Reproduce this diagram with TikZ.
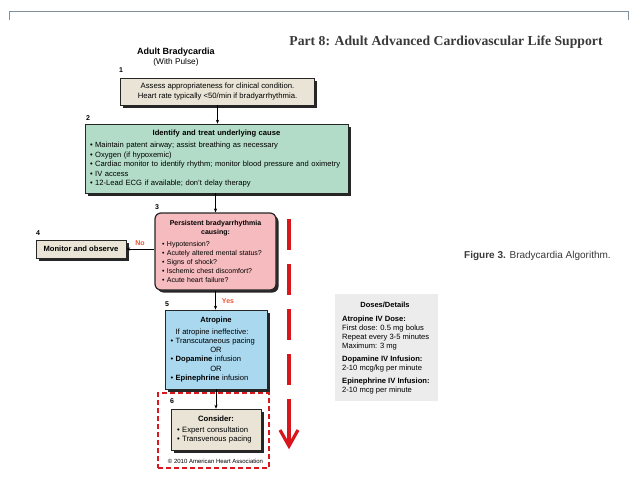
\documentclass[tikz,border=0pt]{standalone}
\usepackage{fontspec}
\setmainfont{Liberation Sans}
\newfontfamily\serifhead{Liberation Serif}
\usetikzlibrary{arrows.meta,shadows}
\definecolor{beige}{HTML}{E9E4D5}
\definecolor{mint}{HTML}{B2DCC7}
\definecolor{pinkbox}{HTML}{F5BBBE}
\definecolor{bluebox}{HTML}{A9D8EF}
\definecolor{dosegray}{HTML}{ECECEC}
\definecolor{alarmred}{HTML}{D8161C}
\definecolor{yesno}{HTML}{E8542F}
\definecolor{rulegray}{HTML}{7F909C}
\definecolor{capgray}{HTML}{3A3A3A}
\begin{document}
\begin{tikzpicture}[x=1pt,y=-1pt,
  box/.style={draw=black!85, line width=0.6pt, inner sep=0pt,
    drop shadow={shadow xshift=2.5pt, shadow yshift=-2.5pt, fill=black!85, opacity=1}},
  num/.style={font=\bfseries\fontsize{7}{8}\selectfont, inner sep=0pt},
  arr/.style={line width=0.6pt, -{Stealth[length=4pt,width=3.2pt]}},
  lbl/.style={font=\bfseries\fontsize{7}{8}\selectfont, text=yesno, inner sep=0pt},
  reddash/.style={draw=alarmred, line width=3.6pt}
]
\useasboundingbox (0,0) rectangle (638,479);
\fill[white] (0,0) rectangle (638,479);

% top rule
\draw[rulegray, line width=0.8pt] (9,20) -- (9,11) -- (628,11) -- (628,20);

% headings
\node[font=\serifhead\bfseries\fontsize{13.7}{15}\selectfont, text=capgray, inner sep=0pt] (part) at (446,42) {Part 8: Adult Advanced Cardiovascular Life Support};
\node[font=\bfseries\fontsize{9}{10}\selectfont, inner sep=0pt] (ttl) at (176,52) {Adult Bradycardia};
\node[font=\fontsize{8.3}{9}\selectfont, inner sep=0pt] (sub) at (176,62.5) {(With Pulse)};

% box 1
\node[num] (n1) at (121,70) {1};
\node[box, fill=beige, minimum width=194pt, minimum height=27pt, align=center,
  font=\fontsize{7.7}{10.5}\selectfont] (b1) at (217.5,91.5)
  {Assess appropriateness for clinical condition.\\Heart rate typically <50/min if bradyarrhythmia.};

% box 2
\node[num] (n2) at (88,118) {2};
\node[box, fill=mint, minimum width=263pt, minimum height=69pt, text width=253pt, align=left,
  font=\fontsize{7.6}{9.4}\selectfont] (b2) at (216.5,158.5)
  {\makebox[\linewidth][c]{\bfseries Identify and treat underlying cause}\\[3pt]
   \textbullet\hspace{2.5pt}Maintain patent airway; assist breathing as necessary\\
   \textbullet\hspace{2.5pt}Oxygen (if hypoxemic)\\
   \textbullet\hspace{2.5pt}Cardiac monitor to identify rhythm; monitor blood pressure and oximetry\\
   \textbullet\hspace{2.5pt}IV access\\
   \textbullet\hspace{2.5pt}12-Lead ECG if available; don't delay therapy};

% box 3
\node[num] (n3) at (157,207) {3};
\node[box, fill=pinkbox, line width=1.2pt, rounded corners=6pt, minimum width=121pt, minimum height=77pt,
  text width=107pt, align=left, font=\fontsize{7}{9}\selectfont] (b3) at (215.5,251.5)
  {\makebox[\linewidth][c]{\bfseries Persistent bradyarrhythmia}\\
   \makebox[\linewidth][c]{\bfseries causing:}\\[2.5pt]
   \textbullet\hspace{2.5pt}Hypotension?\\
   \textbullet\hspace{2.5pt}Acutely altered mental status?\\
   \textbullet\hspace{2.5pt}Signs of shock?\\
   \textbullet\hspace{2.5pt}Ischemic chest discomfort?\\
   \textbullet\hspace{2.5pt}Acute heart failure?};

% box 4
\node[num] (n4) at (38,233) {4};
\node[box, fill=beige, minimum width=90pt, minimum height=18pt,
  font=\bfseries\fontsize{7.6}{8}\selectfont] (b4) at (81,249) {Monitor and observe};

% box 5
\node[num] (n5) at (167,304) {5};
\node[box, fill=bluebox, minimum width=102pt, minimum height=79pt, text width=91pt, align=left,
  font=\fontsize{7.6}{9.2}\selectfont] (b5) at (216,349.5)
  {\makebox[\linewidth][c]{\bfseries Atropine}\\[2.5pt]
   \hspace{5pt}If atropine ineffective:\\
   \textbullet\hspace{2.5pt}Transcutaneous pacing\\
   \makebox[\linewidth][c]{OR}\\
   \textbullet\hspace{2.5pt}\textbf{Dopamine} infusion\\
   \makebox[\linewidth][c]{OR}\\
   \textbullet\hspace{2.5pt}\textbf{Epinephrine} infusion};

% group 6
\node[draw=alarmred, line width=1.6pt, dash pattern=on 5pt off 3pt, minimum width=111pt, minimum height=75pt, inner sep=0pt] (g6) at (213.5,430.5) {};
\node[num] (n6) at (172,401) {6};
\node[box, fill=beige, minimum width=90pt, minimum height=41pt, text width=78pt, align=left,
  font=\fontsize{7.7}{8.5}\selectfont] (b6) at (216,429.5)
  {\makebox[\linewidth][c]{\bfseries Consider:}\\[3pt]
   \textbullet\hspace{2.5pt}Expert consultation\\
   \textbullet\hspace{2.5pt}Transvenous pacing};
\node[font=\fontsize{6}{6.5}\selectfont, inner sep=0pt] (copy) at (215.5,461) {\textcopyright\ 2010 American Heart Association};

% connectors
\draw[arr] (b1.south) -- (b1.south |- b2.north);
\draw[arr] (b2.south -| b3.north) -- (b3.north);
\draw[arr] (b4.east -| b3.west) -- (b4.east);
\draw[arr] (b3.south) -- (b3.south |- b5.north);
\draw[arr] (b5.south) -- (b5.south |- b6.north);
\node[lbl] (no) at (140,243) {No};
\node[lbl] (yes) at (228,301) {Yes};

% red dashed arrow
\coordinate (rtop) at (289,219);
\coordinate (rmid) at (289,430);
\coordinate (rtip) at (289,446);
\draw[reddash, dash pattern=on 31pt off 14pt] (rtop) -- (rmid);
\draw[reddash] (rmid) -- ([yshift=3pt]rtip);
\draw[reddash, line width=3.2pt, line join=miter] ([xshift=-9pt,yshift=16pt]rtip) -- (rtip) -- ([xshift=9pt,yshift=16pt]rtip);

% doses box
\node[fill=dosegray, minimum width=103pt, minimum height=107pt, inner sep=0pt] (dose) at (386.5,347.5) {};
\node[font=\bfseries\fontsize{7.5}{8}\selectfont, inner sep=0pt] (dtitle) at (385,305) {Doses/Details};
\node[anchor=north west, align=left, inner sep=0pt, font=\fontsize{7.6}{9}\selectfont] (dtext) at (342,316)
  {\textbf{Atropine IV Dose:}\\
   First dose: 0.5 mg bolus\\
   Repeat every 3-5 minutes\\
   Maximum: 3 mg\\[4pt]
   \textbf{Dopamine IV Infusion:}\\
   2-10 mcg/kg per minute\\[4pt]
   \textbf{Epinephrine IV Infusion:}\\
   2-10 mcg per minute};

% caption
\node[font=\fontsize{10}{11}\selectfont, text=capgray, inner sep=0pt] (cap) at (537.5,256) {\textbf{Figure 3.} Bradycardia Algorithm.};
\end{tikzpicture}
\end{document}
